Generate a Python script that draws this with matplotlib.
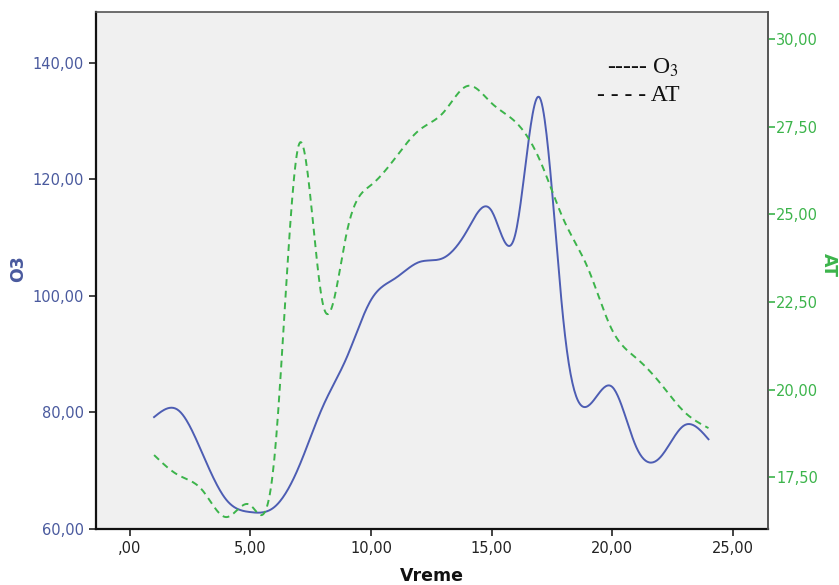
import matplotlib
matplotlib.use("Agg")
import matplotlib.pyplot as plt
import numpy as np

plt.rcParams["mathtext.fontset"] = "stix"

# hourly values
hours = np.arange(1, 25)
o3 = [79.2, 80.4, 73.0, 65.0, 62.9, 63.8, 70.6, 81.0, 89.5, 99.3, 103.0, 105.8,
      106.5, 111.3, 114.6, 110.8, 134.0, 95.0, 81.1, 84.4, 74.1, 72.3, 77.8, 75.4]
at = [18.13, 17.56, 17.13, 16.36, 16.70, 18.10, 26.97, 22.45, 24.50, 25.83, 26.60, 27.40,
      27.90, 28.66, 28.17, 27.63, 26.55, 24.83, 23.46, 21.70, 20.90, 20.18, 19.36, 18.90]

xticks = [0, 5, 10, 15, 20, 25]
o3_ticks = [60, 80, 100, 120, 140]
at_ticks = [17.5, 20, 22.5, 25, 27.5, 30]


def comma(v):
    s = f"{v:.2f}".replace(".", ",")
    return s[1:] if s.startswith("0") else s


def natural_spline(x, y, n=600):
    x = np.asarray(x, float)
    y = np.asarray(y, float)
    k = len(x)
    h = np.diff(x)
    A = np.zeros((k, k))
    b = np.zeros(k)
    A[0, 0] = A[-1, -1] = 1.0
    for i in range(1, k - 1):
        A[i, i - 1] = h[i - 1]
        A[i, i] = 2 * (h[i - 1] + h[i])
        A[i, i + 1] = h[i]
        b[i] = 3 * ((y[i + 1] - y[i]) / h[i] - (y[i] - y[i - 1]) / h[i - 1])
    c = np.linalg.solve(A, b)
    xs = np.linspace(x[0], x[-1], n)
    idx = np.clip(np.searchsorted(x, xs) - 1, 0, k - 2)
    dx = xs - x[idx]
    bb = (y[idx + 1] - y[idx]) / h[idx] - h[idx] * (2 * c[idx] + c[idx + 1]) / 3
    dd = (c[idx + 1] - c[idx]) / (3 * h[idx])
    return xs, y[idx] + bb * dx + c[idx] * dx ** 2 + dd * dx ** 3


blue = "#4d5db3"
green = "#3cb44b"
blue_txt = "#4a5a9e"

fig = plt.figure(figsize=(8.39, 5.85), dpi=100)
ax = fig.add_axes([0.1144, 0.0957, 0.801, 0.8838])
ax.set_facecolor("#f0f0f0")
ax2 = ax.twinx()

xs, ys = natural_spline(hours, o3)
ax.plot(xs, ys, color=blue, linewidth=1.4)
xs, ys = natural_spline(hours, at)
ax2.plot(xs, ys, color=green, linewidth=1.4, linestyle=(0, (3.5, 2.5)))

ax.set_xlim(-1.41, 26.47)
ax.set_ylim(60, 148.7)
ax2.set_ylim(16.02, 30.77)

ax.set_xticks(xticks)
ax.set_xticklabels([comma(v) for v in xticks], fontsize=10.5)
ax.set_yticks(o3_ticks)
ax.set_yticklabels([comma(v) for v in o3_ticks], fontsize=10.5)
ax2.set_yticks(at_ticks)
ax2.set_yticklabels([comma(v) for v in at_ticks], fontsize=10.5)

ax.tick_params(axis="both", direction="out", length=5, width=1.2, colors="#222222")
ax.tick_params(axis="y", labelcolor=blue_txt)
ax.tick_params(axis="x", labelcolor="#222222")
ax2.tick_params(axis="y", direction="out", length=5, width=1.2, colors=green, pad=1)

for name in ("left", "bottom"):
    ax.spines[name].set_linewidth(1.6)
    ax.spines[name].set_color("#111111")
for name in ("top", "right"):
    ax.spines[name].set_linewidth(1.2)
    ax.spines[name].set_color("#555555")
ax2.spines["right"].set_linewidth(1.2)
ax2.spines["right"].set_color("#555555")
for name in ("top", "left", "bottom"):
    ax2.spines[name].set_visible(False)

ax.set_xlabel("Vreme", fontsize=12.5, fontweight="bold", color="#111111", labelpad=8)
fig.text(0.022, 0.54, "O3", rotation=90, fontsize=12.5, fontweight="bold",
         color=blue_txt, ha="center", va="center")
fig.text(0.988, 0.547, "AT", rotation=-90, fontsize=12.5, fontweight="bold",
         color=green, ha="center", va="center")

# hand-typed legend from the original
ax.text(0.760, 0.892, "----- O$_3$", transform=ax.transAxes, fontsize=17,
        family="Liberation Serif", color="#111111", ha="left", va="center")
ax.text(0.745, 0.839, "- - - - AT", transform=ax.transAxes, fontsize=17,
        family="Liberation Serif", color="#111111", ha="left", va="center")

fig.savefig("out.png", dpi=100)
